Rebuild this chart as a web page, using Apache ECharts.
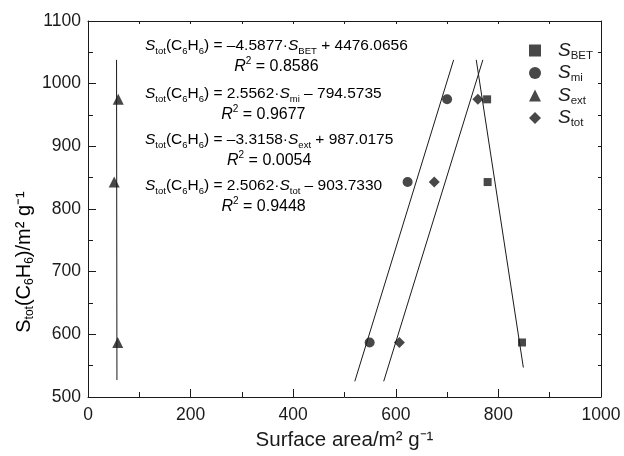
<!DOCTYPE html>
<html>
<head>
<meta charset="utf-8">
<script src="https://cdn.jsdelivr.net/npm/echarts@6/dist/echarts.min.js"></script>
<style>
html,body{margin:0;padding:0;background:#fff}
#chart{width:624px;height:456px}
</style>
</head>
<body>
<div id="chart"></div>
<script>
// S_tot(C6H6) of the three samples, shared by every series (y values)
var sTotBenzene = [587, 843, 975];
// surface areas (x values)
var sBET = [846, 779, 778];
var sMi = [549, 623, 700];
var sExt = [58, 51, 59];
var sTot = [607, 675, 760];

var xTicks = [0, 200, 400, 600, 800, 1000];
var yTicks = [500, 600, 700, 800, 900, 1000, 1100];

// y extent of the fitted lines
var fitLow = [547, 525, 527, 525];
var fitHigh = [1038, 1038, 1038, 1038];

// equations printed on the chart
var seriesSubs = ['BET', 'mi', 'ext', 'tot'];
var eqSlope = ['\u20134.5877', '2.5562', '\u20133.3158', '2.5062'];
var eqIntercept = ['+ 4476.0656', '\u2013 794.5735', '+ 987.0175', '\u2013 903.7330'];
var eqR2 = ['0.8586', '0.9677', '0.0054', '0.9448'];

var FONT = 'Liberation Sans, Arial, Helvetica, sans-serif';
var INK = '#1a1a1a';

// least squares of x on y, so near-vertical lines work too
function fitXonY(xs, ys) {
    var n = xs.length, mx = 0, my = 0, sxy = 0, syy = 0;
    for (var i = 0; i < n; i++) { mx += xs[i] / n; my += ys[i] / n; }
    for (var j = 0; j < n; j++) {
        sxy += (xs[j] - mx) * (ys[j] - my);
        syy += (ys[j] - my) * (ys[j] - my);
    }
    var b = sxy / syy;
    return function (y) { return mx + b * (y - my); };
}

function pairs(xs) {
    var out = [];
    for (var i = 0; i < xs.length; i++) out.push([xs[i], sTotBenzene[i]]);
    return out;
}

var groups = [sBET, sMi, sExt, sTot];
var names = ['SBET', 'Smi', 'Sext', 'Stot'];
var symbols = ['rect', 'circle', 'triangle', 'diamond'];
var sizes = [8, 10, 11, 11];

var series = [];
groups.forEach(function (xs, k) {
    series.push({
        name: names[k],
        type: 'scatter',
        data: pairs(xs),
        symbol: symbols[k],
        symbolSize: sizes[k],
        itemStyle: { color: INK },
        z: 3
    });
});
groups.forEach(function (xs, k) {
    var f = fitXonY(xs, sTotBenzene);
    series.push({
        type: 'line',
        data: [[f(fitLow[k]), fitLow[k]], [f(fitHigh[k]), fitHigh[k]]],
        symbol: 'none',
        lineStyle: { color: INK, width: 1 },
        silent: true,
        z: 2
    });
});

var eqRich = {
    s: { fontFamily: FONT, fontSize: 15.5, fontStyle: 'italic', lineHeight: 21, color: INK },
    n: { fontFamily: FONT, fontSize: 15.5, lineHeight: 21, color: INK },
    sub: { fontFamily: FONT, fontSize: 9.5, lineHeight: 8, verticalAlign: 'bottom', color: INK },
    rc: { fontFamily: FONT, fontSize: 16, fontStyle: 'italic', lineHeight: 21, align: 'center', color: INK },
    supc: { fontFamily: FONT, fontSize: 10, lineHeight: 12, verticalAlign: 'top', align: 'center', color: INK },
    nc: { fontFamily: FONT, fontSize: 16, lineHeight: 21, align: 'center', color: INK }
};

var eqTops = [35, 83, 129, 175];
var graphics = [];
for (var i = 0; i < 4; i++) {
    var txt = '{s|S}{sub|tot}{n|(C}{sub|6}{n|H}{sub|6}{n|) = ' + eqSlope[i] + '\u00b7}{s|S}{sub|' +
        seriesSubs[i] + '}{n| ' + eqIntercept[i] + '}\n{rc|R}{supc|2}{nc| = ' + eqR2[i] + '}';
    graphics.push({
        type: 'text',
        x: 145,
        y: eqTops[i],
        style: {
            text: txt,
            rich: eqRich,
            align: 'left', textAlign: 'left',
            verticalAlign: 'top', textVerticalAlign: 'top'
        }
    });
}

// y axis title (rotated)
graphics.push({
    type: 'text',
    x: 24,
    y: 262,
    rotation: Math.PI / 2,
    style: {
        text: '{n|S}{sub|tot}{n|(C}{sub|6}{n|H}{sub|6}{n|)/m\u00b2 g\u207b\u00b9}',
        rich: {
            n: { fontFamily: FONT, fontSize: 20, lineHeight: 24, color: INK },
            sub: { fontFamily: FONT, fontSize: 12, lineHeight: 10, verticalAlign: 'bottom', color: INK }
        },
        align: 'center', textAlign: 'center',
        verticalAlign: 'middle', textVerticalAlign: 'middle'
    }
});

var axisLine = { show: true, onZero: false, lineStyle: { color: INK, width: 1 } };
function plain(v) { return String(v); }

var option = {
    animation: false,
    backgroundColor: '#fff',
    grid: { left: 88, right: 23, top: 21, bottom: 53, containLabel: false },
    legend: {
        orient: 'vertical',
        left: 524,
        top: 36,
        itemWidth: 12,
        itemHeight: 12,
        itemGap: 2,
        data: names,
        formatter: function (name) {
            return '{g| }{s|S}{b|' + name.slice(1) + '}';
        },
        textStyle: {
            rich: {
                g: { width: 12 },
                s: { fontFamily: FONT, fontSize: 19, fontStyle: 'italic', lineHeight: 22, color: INK },
                b: { fontFamily: FONT, fontSize: 11.5, lineHeight: 8, verticalAlign: 'bottom', color: INK }
            }
        }
    },
    xAxis: [{
        type: 'value',
        position: 'bottom',
        min: xTicks[0],
        max: xTicks[xTicks.length - 1],
        interval: xTicks[1] - xTicks[0],
        axisLine: axisLine,
        axisTick: { show: true, inside: true, length: 8, lineStyle: { color: INK } },
        minorTick: { show: true, splitNumber: 2, length: 5, lineStyle: { color: INK } },
        splitLine: { show: false },
        axisLabel: { fontFamily: FONT, fontSize: 17.5, color: INK, margin: 9, formatter: plain },
        name: 'Surface area/m\u00b2 g\u207b\u00b9',
        nameLocation: 'middle',
        nameGap: 33,
        nameTextStyle: { fontFamily: FONT, fontSize: 20.5, color: INK }
    }, {
        type: 'value',
        position: 'top',
        min: xTicks[0],
        max: xTicks[xTicks.length - 1],
        interval: (xTicks[1] - xTicks[0]) / 2,
        axisLine: axisLine,
        axisTick: { show: true, inside: true, length: 3, lineStyle: { color: INK } },
        axisLabel: { show: false },
        splitLine: { show: false }
    }],
    yAxis: [{
        type: 'value',
        position: 'left',
        min: yTicks[0],
        max: yTicks[yTicks.length - 1],
        interval: yTicks[1] - yTicks[0],
        axisLine: axisLine,
        axisTick: { show: true, inside: true, length: 8, lineStyle: { color: INK } },
        minorTick: { show: true, splitNumber: 2, length: 5, lineStyle: { color: INK } },
        splitLine: { show: false },
        axisLabel: { fontFamily: FONT, fontSize: 17.5, color: INK, margin: 7, formatter: plain }
    }, {
        type: 'value',
        position: 'right',
        min: yTicks[0],
        max: yTicks[yTicks.length - 1],
        interval: (yTicks[1] - yTicks[0]) / 2,
        axisLine: axisLine,
        axisTick: { show: true, inside: true, length: 3, lineStyle: { color: INK } },
        axisLabel: { show: false },
        splitLine: { show: false }
    }],
    graphic: graphics,
    series: series
};

var myChart = echarts.init(document.getElementById('chart'), null, { renderer: 'canvas' });
myChart.setOption(option);
</script>
</body>
</html>
